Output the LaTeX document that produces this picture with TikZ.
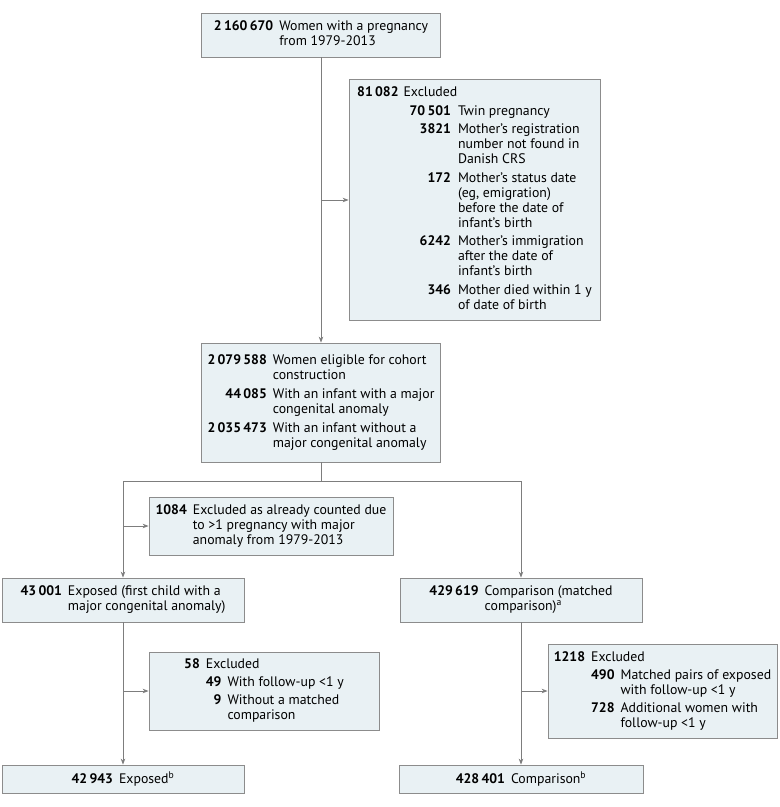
\documentclass[tikz,border=0pt]{standalone}
\usepackage{fontspec}
\setmainfont{PT Sans}
\usetikzlibrary{arrows.meta,calc}
\definecolor{boxfill}{RGB}{233,241,244}
\definecolor{boxline}{RGB}{140,140,140}
\definecolor{lineclr}{RGB}{125,125,125}
\tikzset{
  fbox/.style={draw=boxline, fill=boxfill, line width=0.8pt, inner sep=0pt,
    font=\fontsize{13.8}{15}\selectfont, text=black},
  conn/.style={draw=lineclr, line width=0.8pt},
  arr/.style={conn, -{Stealth[length=6pt,width=4.5pt]}}
}
\newcommand{\nn}[1]{\textbf{#1}}
\begin{document}
\begin{tikzpicture}[x=1pt,y=-1pt]
\useasboundingbox (0,0) rectangle (780,807);

\node[fbox, minimum width=239, minimum height=44] (top) at (321,35) {%
\begin{tabular}{@{}r@{\hspace{6pt}}l@{}}
\nn{2\,160\,670} & Women with a pregnancy\\
 & from 1979-2013
\end{tabular}};

\node[fbox, minimum width=251, minimum height=241] (ex1) at (474.5,200) {%
\begin{tabular}{@{}r@{\hspace{5pt}}r@{\hspace{7pt}}l@{}}
\nn{81\,082} & \multicolumn{2}{@{}l@{}}{Excluded}\\[3.5pt]
 & \hspace{6pt}\nn{70\,501} & Twin pregnancy\\[3.5pt]
 & \nn{3821} & Mother’s registration\\
 & & number not found in\\
 & & Danish CRS\\[3.5pt]
 & \nn{172} & Mother’s status date\\
 & & (eg, emigration)\\
 & & before the date of\\
 & & infant’s birth\\[3.5pt]
 & \nn{6242} & Mother’s immigration\\
 & & after the date of\\
 & & infant’s birth\\[3.5pt]
 & \nn{346} & Mother died within 1 y\\
 & & of date of birth
\end{tabular}};

\node[fbox, minimum width=239, minimum height=119] (mid) at (321,402.5) {%
\begin{tabular}{@{}r@{\hspace{6pt}}l@{}}
\nn{2\,079\,588} & Women eligible for cohort\\
 & construction\\[4pt]
\nn{44\,085} & With an infant with a major\\
 & congenital anomaly\\[4pt]
\nn{2\,035\,473} & With an infant without a\\
 & major congenital anomaly
\end{tabular}};

\node[fbox, minimum width=244, minimum height=58] (ex2) at (271,526) {%
\begin{tabular}{@{}r@{\hspace{6pt}}l@{}}
\nn{1084} & Excluded as already counted due\\
 & to >1 pregnancy with major\\
 & anomaly from 1979-2013
\end{tabular}};

\node[fbox, minimum width=242, minimum height=44] (exp) at (123,600) {%
\begin{tabular}{@{}r@{\hspace{6pt}}l@{}}
\nn{43\,001} & Exposed (first child with a\\
 & major congenital anomaly)
\end{tabular}};

\node[fbox, minimum width=242, minimum height=44] (comp) at (521,600) {%
\begin{tabular}{@{}r@{\hspace{6pt}}l@{}}
\nn{429\,619} & Comparison (matched\\
 & comparison)\textsuperscript{a}
\end{tabular}};

\node[fbox, minimum width=230, minimum height=78] (ex3) at (264,691) {%
\begin{tabular}{@{}r@{\hspace{6pt}}r@{\hspace{6pt}}l@{}}
\nn{58} & \multicolumn{2}{@{}l@{}}{Excluded}\\[3pt]
 & \nn{49} & With follow-up <1 y\\[3pt]
 & \nn{9} & Without a matched\\
 & & comparison
\end{tabular}};

\node[fbox, minimum width=229, minimum height=94] (ex4) at (662.5,691) {%
\begin{tabular}{@{}r@{\hspace{6pt}}r@{\hspace{6pt}}l@{}}
\nn{1218} & \multicolumn{2}{@{}l@{}}{Excluded}\\[3pt]
 & \nn{490} & Matched pairs of exposed\\
 & & with follow-up <1 y\\[3pt]
 & \nn{728} & Additional women with\\
 & & follow-up <1 y
\end{tabular}};

\node[fbox, minimum width=242, minimum height=28] (fexp) at (123,779)
  {\nn{42\,943}\hspace{6pt}Exposed\textsuperscript{b}};
\node[fbox, minimum width=244, minimum height=28] (fcomp) at (521,779)
  {\nn{428\,401}\hspace{6pt}Comparison\textsuperscript{b}};

% connectors
\draw[arr] (top.south) -- (mid.north);
\draw[arr] (top.south |- ex1.west) -- (ex1.west);
\coordinate (split) at ($(mid.south)+(0,19)$);
\draw[conn] (mid.south) -- (split);
\draw[arr] (split) -| (exp.north);
\draw[arr] (split) -| (comp.north);
\draw[arr] (exp.north |- ex2.west) -- (ex2.west);
\draw[arr] (exp.south) -- (fexp.north);
\draw[arr] (exp.south |- ex3.west) -- (ex3.west);
\draw[arr] (comp.south) -- (fcomp.north);
\draw[arr] (comp.south |- ex4.west) -- (ex4.west);
\end{tikzpicture}
\end{document}
